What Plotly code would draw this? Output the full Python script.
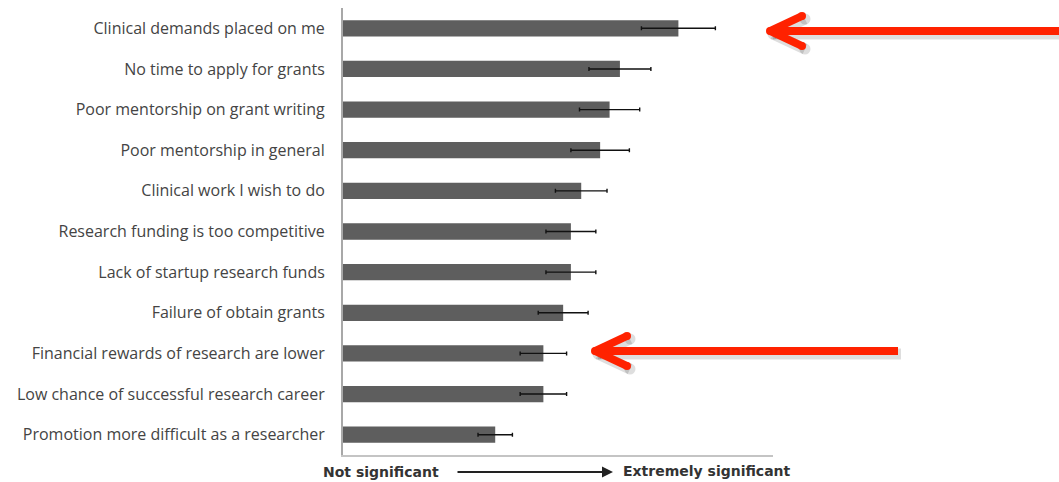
import plotly.graph_objects as go

# Barriers to a research career, ordered from most to least significant
barriers = [
    "Clinical demands placed on me",
    "No time to apply for grants",
    "Poor mentorship on grant writing",
    "Poor mentorship in general",
    "Clinical work I wish to do",
    "Research funding is too competitive",
    "Lack of startup research funds",
    "Failure of obtain grants",
    "Financial rewards of research are lower",
    "Low chance of successful research career",
    "Promotion more difficult as a researcher",
]
mean_score = [3.90, 3.22, 3.10, 2.99, 2.77, 2.65, 2.65, 2.56, 2.33, 2.33, 1.77]
error_score = [0.43, 0.36, 0.35, 0.34, 0.30, 0.29, 0.29, 0.29, 0.27, 0.27, 0.20]

W, H = 1059, 482
L, R, T, B = 343, 773, 8, 455  # plot area edges in pixels


def px(x):
    return (x - L) / (R - L)


def py(y):
    return (B - y) / (B - T)


fig = go.Figure(
    go.Bar(
        x=mean_score,
        y=barriers,
        orientation="h",
        width=0.4,
        marker=dict(color="#5e5e5e", line=dict(width=0)),
        error_x=dict(type="data", array=error_score, color="#111111",
                     thickness=1.4, width=2),
        hoverinfo="x+y",
    )
)

fig.update_layout(
    width=W,
    height=H,
    margin=dict(l=L, r=W - R, t=T, b=H - B),
    paper_bgcolor="white",
    plot_bgcolor="white",
    showlegend=False,
    bargap=0.6,
)
fig.update_xaxes(range=[0, 5], showgrid=False, zeroline=False, showticklabels=False,
                 ticks="", showline=True, linecolor="#c4c4c4", linewidth=1.5)
fig.update_yaxes(autorange="reversed", showgrid=False, ticks="", showline=True,
                 linecolor="#a8a8a8", linewidth=2, ticklabelstandoff=13,
                 tickfont=dict(family="Open Sans", size=16, color="#444444"))

# Axis direction legend under the plot
legend_font = dict(family="DejaVu Sans", size=14, color="#333333")
fig.add_annotation(xref="paper", yref="paper", x=px(381), y=py(472), text="<b>Not significant</b>",
                   xanchor="center", yanchor="middle", showarrow=False, font=legend_font)
fig.add_annotation(xref="paper", yref="paper", x=px(707), y=py(471), text="<b>Extremely significant</b>",
                   xanchor="center", yanchor="middle", showarrow=False, font=legend_font)
fig.add_annotation(xref="paper", yref="paper", x=px(613), y=py(472), ax=-157, ay=0,
                   text="", showarrow=True, arrowhead=2, arrowsize=1.1, arrowwidth=2,
                   arrowcolor="#222222")

# Red highlight arrows
RED = "#ff2200"


def red_arrow(tip_x, tip_y, tail_x, arm_dx=32, arm_dy=15, w=8):
    shadow = "rgba(0,0,0,0.13)"
    segs = [((tip_x, tip_y), (tail_x, tip_y)),
            ((tip_x, tip_y), (tip_x + arm_dx, tip_y - arm_dy)),
            ((tip_x, tip_y), (tip_x + arm_dx, tip_y + arm_dy))]
    for color, off, lw in ((shadow, 3, w + 3), (RED, 0, w)):
        for (x0, y0), (x1, y1) in segs:
            fig.add_shape(type="line", xref="paper", yref="paper",
                          x0=px(x0 + off), y0=py(y0 + off), x1=px(x1 + off), y1=py(y1 + off),
                          line=dict(color=color, width=lw))
        for cx, cy in [(tip_x, tip_y), (tip_x + arm_dx, tip_y - arm_dy),
                       (tip_x + arm_dx, tip_y + arm_dy)]:
            r = lw / 2
            fig.add_shape(type="circle", xref="paper", yref="paper",
                          x0=px(cx + off - r), x1=px(cx + off + r),
                          y0=py(cy + off - r), y1=py(cy + off + r),
                          fillcolor=color, line=dict(width=0))


red_arrow(770, 31, 1062)
red_arrow(595, 351, 898)

fig.write_html("out.html")
